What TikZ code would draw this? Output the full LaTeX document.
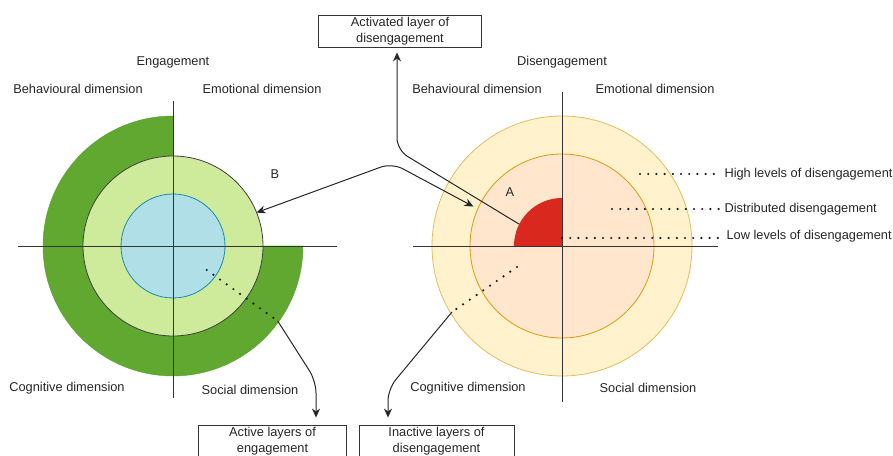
\documentclass[tikz,border=0pt]{standalone}
\usepackage{fontspec}
\setmainfont{Liberation Sans}
\usepackage{xcolor}
\usepackage{tikz}
\usetikzlibrary{calc, arrows.meta}
\definecolor{engdark}{HTML}{60A830}
\definecolor{engedge}{HTML}{58A02A}
\definecolor{englight}{HTML}{CDEB9B}
\definecolor{engblue}{HTML}{B1DFE8}
\definecolor{engblueedge}{HTML}{1A8BA8}
\definecolor{disouter}{HTML}{FFF2CC}
\definecolor{disouteredge}{HTML}{E0BE5E}
\definecolor{dismid}{HTML}{FFE6CC}
\definecolor{dismidedge}{HTML}{D99B10}
\definecolor{disred}{HTML}{D9281E}
\tikzset{every node/.append style={font=\fontsize{12.8}{16}\selectfont, text=black!85}}
\tikzset{
  labelbox/.style={draw=black!80, line width=0.8pt, align=center, inner sep=0pt},
  dotline/.style={line width=2.4pt, dash pattern=on 0pt off 8.2pt, line cap=round, black!90},
  axisline/.style={line width=0.9pt, black!80},
  connector/.style={line width=1pt, black!85, rounded corners=12pt}
}

\begin{document}
\begin{tikzpicture}[x=1pt, y=1pt, >={Stealth[length=9pt, width=8pt]}]
    \useasboundingbox (0,0) rectangle (893,455);
    % left: engagement
    \begin{scope}[shift={(173,209)}]
        \fill[engdark, draw=engedge] (0,0) -- (0,130) arc (90:360:130pt) -- cycle;
        \filldraw[fill=englight, draw=black!75, line width=0.8pt] (0,0) circle (90pt);
        \filldraw[fill=engblue, draw=engblueedge, line width=0.8pt] (0,0) circle (52pt);
        \draw[axisline] (-155,0) -- (164,0);
        \draw[axisline] (0,145) -- (0,-152);
        \node (engtitle) at (0,184) {Engagement};
        \node (engbeh) at (-95,157) {Behavioural dimension};
        \node (engemo) at (89,157) {Emotional dimension};
        \node (engcog) at (-106,-142) {Cognitive dimension};
        \node (engsoc) at (77,-144) {Social dimension};
        \node (labB) at (102,72) {B};
        \coordinate (Bleft) at (21.8:90pt);
        \coordinate (engdotA) at (33.7,-24);
        \coordinate (engdotB) at (104.7,-75);
    \end{scope}
    % right: disengagement
    \begin{scope}[shift={(562,209)}]
        \filldraw[fill=disouter, draw=disouteredge, line width=0.8pt] (0,0) circle (130pt);
        \filldraw[fill=dismid, draw=dismidedge, line width=0.8pt] (0,0) circle (92pt);
        \fill[disred] (0,0) -- (0,48) arc (90:180:48pt) -- cycle;
        \draw[axisline] (-149,0) -- (156,0);
        \draw[axisline] (0,154) -- (0,-156);
        \node (distitle) at (0,184) {Disengagement};
        \node (disbeh) at (-85,157) {Behavioural dimension};
        \node (disemo) at (93,157) {Emotional dimension};
        \node (discog) at (-94,-142) {Cognitive dimension};
        \node (dissoc) at (86,-142) {Social dimension};
        \node (labA) at (-52,54) {A};
        \coordinate (redA) at (153:48pt);
        \coordinate (Bright) at (156:97pt);
        \coordinate (disdotA) at (-45,-21);
        \coordinate (disdotB) at (-110,-66);
        \coordinate (highdot) at (78,72);
        \coordinate (distdot) at (50,37);
        \coordinate (lowdot) at (0,8);
    \end{scope}
    % level labels
    \node[anchor=west] (high) at (721,281) {High levels of disengagement};
    \node[anchor=west] (dist) at (721,246) {Distributed disengagement};
    \node[anchor=west] (low) at (723,219) {Low levels of disengagement};
    \draw[dotline] (highdot) -- (high.west);
    \draw[dotline] (distdot) -- (dist.west);
    \draw[dotline] (lowdot) -- (lowdot -| low.west);
    % boxes
    \node[labelbox, minimum width=163pt, minimum height=32pt] (activated) at (400,424) {Activated layer of\\disengagement};
    \node[labelbox, minimum width=148pt, minimum height=32pt] (active) at (272.5,14) {Active layers of\\engagement};
    \node[labelbox, minimum width=155pt, minimum height=32pt] (inactive) at (436.5,14) {Inactive layers of\\disengagement};
    % connectors
    \coordinate (actbend) at (397,305);
    \coordinate (Bbend) at (392,292);
    \coordinate (activebend) at (316,74);
    \coordinate (inactivebend) at (388,66);
    \draw[connector, ->, shorten >=5pt] (redA) -- (actbend) -- (actbend |- activated.south);
    \draw[connector, <->] (Bleft) -- (Bbend) -- (Bright);
    \draw[dotline] (engdotA) -- (engdotB);
    \draw[dotline] (disdotA) -- (disdotB);
    \draw[connector, ->, shorten >=7pt] (engdotB) -- (activebend) -- (activebend |- active.north);
    \draw[connector, ->, shorten >=7pt] (disdotB) -- (inactivebend) -- (inactivebend |- inactive.north);
\end{tikzpicture}
\end{document}
